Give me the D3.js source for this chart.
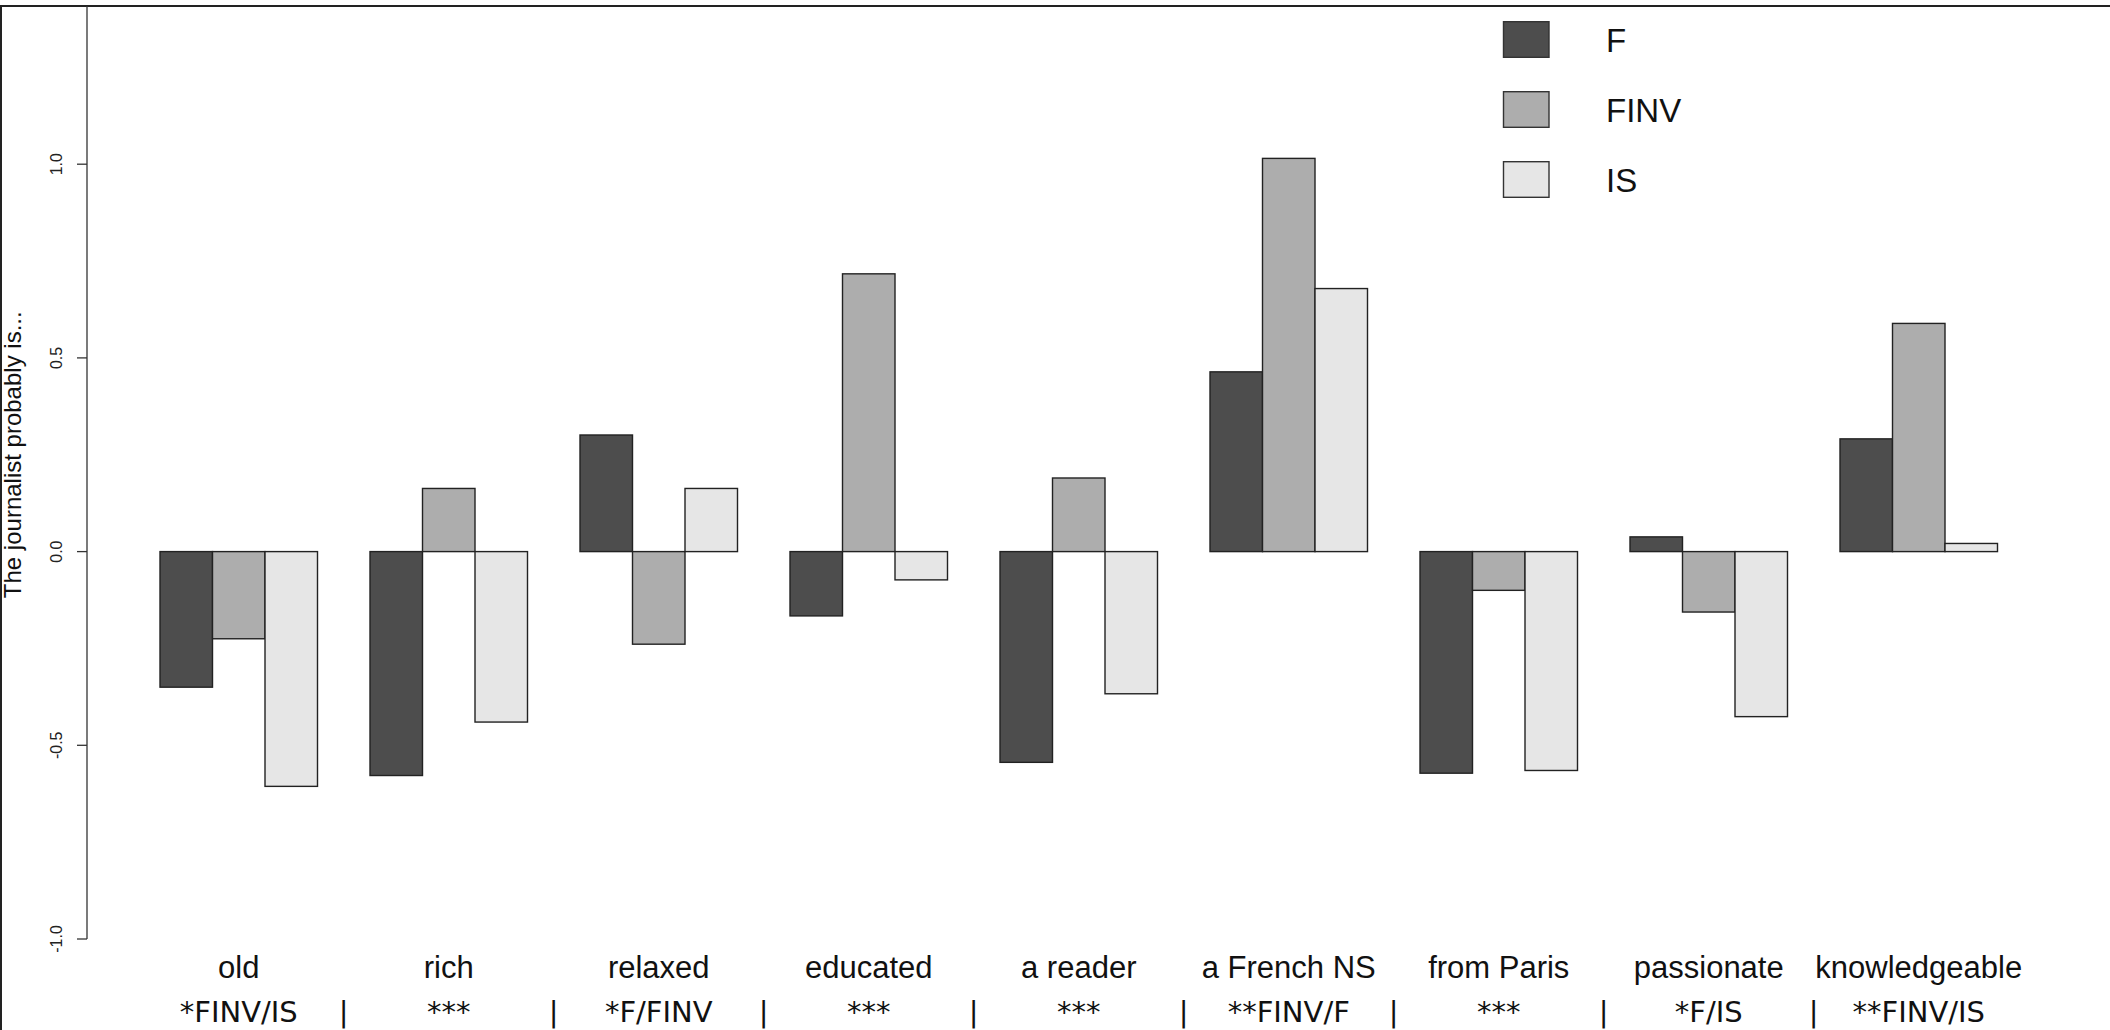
<!DOCTYPE html>
<html>
<head>
<meta charset="utf-8">
<script src="https://cdn.jsdelivr.net/npm/d3@7"></script>
<style>
  html, body { margin: 0; padding: 0; background: #fff; }
  svg { display: block; }
</style>
</head>
<body>
<svg id="chart" width="2110" height="1030"></svg>
<script>
const categories = ["old", "rich", "relaxed", "educated", "a reader", "a French NS", "from Paris", "passionate", "knowledgeable"];
const seriesNames = ["F", "FINV", "IS"];
const valuesF    = [-0.350, -0.578,  0.301, -0.166, -0.544, 0.464, -0.572,  0.038, 0.291];
const valuesFINV = [-0.225,  0.163, -0.239,  0.717,  0.190, 1.015, -0.100, -0.156, 0.589];
const valuesIS   = [-0.606, -0.440,  0.163, -0.073, -0.367, 0.679, -0.565, -0.426, 0.021];
const significance = ["*FINV/IS", "***", "*F/FINV", "***", "***", "**FINV/F", "***", "*F/IS", "**FINV/IS"];
const yTicks = [-1.0, -0.5, 0.0, 0.5, 1.0];
const yLabel = "The journalist probably is...";
const colors = ["#4d4d4d", "#adadad", "#e6e6e6"];

const seriesValues = [valuesF, valuesFINV, valuesIS];
const svg = d3.select("#chart");

const barW = 52.5;
const x0 = d3.scaleBand().domain(categories).range([107.5, 107.5 + 9 * 4 * barW]);
const x1 = d3.scaleBand().domain(seriesNames).range([barW, 4 * barW]);
const y = d3.scaleLinear().domain([-1, 1.5]).range([939, -29.5]);

// frame lines
svg.append("line").attr("x1", 0).attr("x2", 2110).attr("y1", 6).attr("y2", 6)
  .attr("stroke", "#222").attr("stroke-width", 2);
svg.append("line").attr("x1", 1).attr("x2", 1).attr("y1", 6).attr("y2", 1030)
  .attr("stroke", "#222").attr("stroke-width", 2);

// y axis
const axisX = 87;
svg.append("line").attr("x1", axisX).attr("x2", axisX).attr("y1", y(-1)).attr("y2", 6)
  .attr("stroke", "#333").attr("stroke-width", 1.3);
const tg = svg.append("g");
tg.selectAll("line").data(yTicks).join("line")
  .attr("x1", axisX - 10).attr("x2", axisX)
  .attr("y1", d => y(d)).attr("y2", d => y(d))
  .attr("stroke", "#333").attr("stroke-width", 1.3);
tg.selectAll("text").data(yTicks).join("text")
  .attr("transform", d => `translate(62,${y(d)}) rotate(-90)`)
  .attr("text-anchor", "middle")
  .attr("font-family", "'Liberation Sans', Arial, sans-serif")
  .attr("font-size", 16).attr("fill", "#222")
  .text(d => d3.format(".1f")(d).replace("−", "-"));

svg.append("text")
  .attr("transform", `translate(21,${y(0.25)}) rotate(-90)`)
  .attr("text-anchor", "middle")
  .attr("font-family", "'Liberation Sans', Arial, sans-serif")
  .attr("font-size", 24).attr("fill", "#111")
  .text(yLabel);

// bars
const data = [];
categories.forEach((c, i) => {
  seriesNames.forEach((s, j) => {
    data.push({ cat: c, series: s, value: seriesValues[j][i], color: colors[j] });
  });
});
svg.append("g").selectAll("rect").data(data).join("rect")
  .attr("x", d => x0(d.cat) + x1(d.series))
  .attr("width", x1.bandwidth())
  .attr("y", d => Math.min(y(0), y(d.value)))
  .attr("height", d => Math.abs(y(d.value) - y(0)))
  .attr("fill", d => d.color)
  .attr("stroke", "#222").attr("stroke-width", 1.4);

// category labels
const groupCenter = c => x0(c) + barW + 1.5 * barW;
svg.append("g").selectAll("text").data(categories).join("text")
  .attr("x", d => groupCenter(d)).attr("y", 978)
  .attr("text-anchor", "middle")
  .attr("font-family", "'Liberation Sans', Arial, sans-serif")
  .attr("font-size", 31).attr("fill", "#111")
  .text(d => d);

// significance labels
svg.append("g").selectAll("text").data(significance).join("text")
  .attr("x", (d, i) => groupCenter(categories[i])).attr("y", 1022)
  .attr("text-anchor", "middle")
  .attr("font-family", "'DejaVu Sans', sans-serif")
  .attr("font-size", 29).attr("fill", "#111")
  .text(d => d);
svg.append("g").selectAll("text").data(categories.slice(1)).join("text")
  .attr("x", d => x0(d) + barW / 2).attr("y", 1022)
  .attr("text-anchor", "middle")
  .attr("font-family", "'DejaVu Sans', sans-serif")
  .attr("font-size", 29).attr("fill", "#111")
  .text("|");

// legend
const lg = svg.append("g");
const legY = d3.scalePoint().domain(seriesNames).range([39.5, 179.5]);
lg.selectAll("rect").data(seriesNames).join("rect")
  .attr("x", 1503.5).attr("width", 45.5)
  .attr("y", d => legY(d) - 17.8).attr("height", 35.6)
  .attr("fill", (d, i) => colors[i])
  .attr("stroke", "#333").attr("stroke-width", 1.4);
lg.selectAll("text").data(seriesNames).join("text")
  .attr("x", 1606).attr("y", d => legY(d) + 12)
  .attr("font-family", "'Liberation Sans', Arial, sans-serif")
  .attr("font-size", 33).attr("fill", "#111")
  .text(d => d);
</script>
</body>
</html>
